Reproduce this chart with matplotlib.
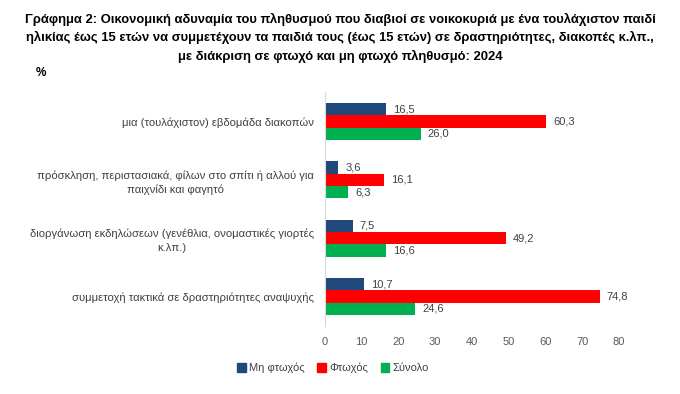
import numpy as np
import matplotlib
matplotlib.use('Agg')
import matplotlib.pyplot as plt
from matplotlib.patches import Patch

plt.rcParams['font.family'] = ['Liberation Sans', 'DejaVu Sans']

categories = [
    'μια (τουλάχιστον) εβδομάδα διακοπών',
    'πρόσκληση, περιστασιακά, φίλων στο σπίτι ή αλλού για\nπαιχνίδι και φαγητό',
    'διοργάνωση εκδηλώσεων (γενέθλια, ονομαστικές γιορτές\nκ.λπ.)',
    'συμμετοχή τακτικά σε δραστηριότητες αναψυχής',
]
non_poor = [16.5, 3.6, 7.5, 10.7]
poor = [60.3, 16.1, 49.2, 74.8]
total = [26.0, 6.3, 16.6, 24.6]
series_names = ['Μη φτωχός', 'Φτωχός', 'Σύνολο']
colors = ['#1F497D', '#FF0000', '#00B050']
xticks = [0, 10, 20, 30, 40, 50, 60, 70, 80]

title = ('Γράφημα 2: Οικονομική αδυναμία του πληθυσμού που διαβιοί σε νοικοκυριά με ένα τουλάχιστον παιδί\n'
         'ηλικίας έως 15 ετών να συμμετέχουν τα παιδιά τους (έως 15 ετών) σε δραστηριότητες, διακοπές κ.λπ.,\n'
         'με διάκριση σε φτωχό και μη φτωχό πληθυσμό: 2024')

fig = plt.figure(figsize=(6.8, 3.94), dpi=100, facecolor='white')
ax = fig.add_axes([0.478, 0.173, 0.432, 0.593])

y = np.arange(len(categories))
h = 0.21
for i, (vals, col) in enumerate(zip([non_poor, poor, total], colors)):
    pos = y + (i - 1) * h
    ax.barh(pos, vals, height=h, color=col, label=series_names[i])
    for p, v in zip(pos, vals):
        ax.text(v + 1.9, p, f'{v:.1f}'.replace('.', ','), va='center', ha='left',
                fontsize=8, color='#404040')

ax.set_ylim(len(categories) - 0.5, -0.5)
ax.set_xlim(0, 80)
ax.set_xticks(xticks)
ax.set_yticks(y)
ax.set_yticklabels(categories, fontsize=8.1, color='#404040', ha='right',
                   multialignment='center', linespacing=1.45)
ax.tick_params(axis='y', length=0, pad=8)
ax.tick_params(axis='x', length=0, labelsize=8, labelcolor='#595959', pad=8)
for s in ['top', 'right', 'bottom']:
    ax.spines[s].set_visible(False)
ax.spines['left'].set_color('#D9D9D9')

fig.text(0.5, 0.968, title, ha='center', va='top', fontsize=9.4, fontweight='bold',
         linespacing=1.55)
fig.text(0.053, 0.815, '%', ha='left', va='center', fontsize=8.5, fontweight='bold')

handles = [Patch(color=c) for c in colors]
fig.legend(handles, series_names, loc='center', bbox_to_anchor=(0.49, 0.066), ncol=3,
           frameon=False, fontsize=8, handlelength=0.8, handleheight=0.8,
           handletextpad=0.3, columnspacing=1.1, labelcolor='#404040')

fig.savefig('out.png', dpi=100)
